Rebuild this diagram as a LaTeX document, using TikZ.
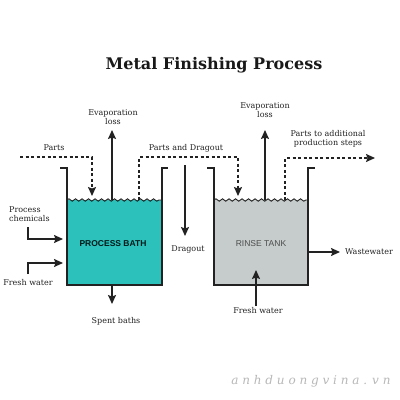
\documentclass[tikz,border=0pt]{standalone}
\usepackage{fontspec}
\setmainfont{DejaVu Serif}
\newfontfamily\labelsans{Liberation Sans}
\usetikzlibrary{arrows.meta,decorations.pathmorphing}
\definecolor{bathteal}{HTML}{2CC1BB}
\definecolor{rinsegray}{HTML}{C6CCCB}
\definecolor{ink}{HTML}{222222}
\begin{document}
\begin{tikzpicture}[x=1pt,y=-1pt,
  wall/.style={line width=1.3pt, draw=ink},
  wave/.style={line width=0.9pt, draw=ink, decorate, decoration={snake, amplitude=1.2pt, segment length=6.5pt}},
  flow/.style={line width=1.4pt, draw=ink, -{Stealth[width=8pt,length=9pt,inset=1.5pt]}},
  dflow/.style={flow, dash pattern=on 3pt off 2.5pt},
  lbl/.style={font=\fontsize{8}{9.4}\selectfont, align=center, text=ink, inner sep=0pt},
  tanklbl/.style={font=\labelsans\fontsize{8.5}{9.5}\selectfont, inner sep=0pt}]
\useasboundingbox (0,0) rectangle (400,400);
\fill[white] (0,0) rectangle (400,400);
% title
\node[font=\bfseries\fontsize{16}{18}\selectfont, text=black!90] (title) at (214,65) {Metal Finishing Process};
% tanks
\fill[bathteal] (67,200) rectangle (162,285);
\fill[rinsegray] (214,200) rectangle (308,285);
\draw[wave] (67,200) -- (162,200);
\draw[wave] (214,200) -- (308,200);
\draw[wall] (60,168) -- (67,168) -- (67,285) -- (162,285) -- (162,168) -- (168,168);
\draw[wall] (207,168) -- (214,168) -- (214,285) -- (308,285) -- (308,168) -- (315,168);
% coordinates
\coordinate (pin) at (20,157);
\coordinate (pin1) at (92,157);
\coordinate (pin2) at (92,196);
\coordinate (ev1a) at (112,200);
\coordinate (ev1b) at (112,130);
\coordinate (pd0) at (139,200);
\coordinate (pd1) at (139,157);
\coordinate (pd2) at (238,157);
\coordinate (pd3) at (238,196);
\coordinate (dr0) at (185,165);
\coordinate (dr1) at (185,236);
\coordinate (ev2a) at (265,200);
\coordinate (ev2b) at (265,130);
\coordinate (pa0) at (285,200);
\coordinate (pa1) at (285,158);
\coordinate (pa2) at (375,158);
\coordinate (pc0) at (28,227);
\coordinate (pc1) at (28,239);
\coordinate (pc2) at (63,239);
\coordinate (fw0) at (28,274);
\coordinate (fw1) at (28,263);
\coordinate (fw2) at (63,263);
\coordinate (sb0) at (112,285);
\coordinate (sb1) at (112,304);
\coordinate (ww0) at (308,252);
\coordinate (ww1) at (340,252);
\coordinate (rf0) at (256,306);
\coordinate (rf1) at (256,270);
% flows
\draw[dflow] (pin) -- (pin1) -- (pin2);
\draw[flow] (ev1a) -- (ev1b);
\draw[dflow] (pd0) -- (pd1) -- (pd2) -- (pd3);
\draw[flow] (dr0) -- (dr1);
\draw[flow] (ev2a) -- (ev2b);
\draw[dflow] (pa0) -- (pa1) -- (pa2);
\draw[flow] (pc0) -- (pc1) -- (pc2);
\draw[flow] (fw0) -- (fw1) -- (fw2);
\draw[flow] (sb0) -- (sb1);
\draw[flow] (ww0) -- (ww1);
\draw[flow] (rf0) -- (rf1);
% labels
\node[lbl] (evl1) at (113,117) {Evaporation\\loss};
\node[lbl] (partsl) at (54,148) {Parts};
\node[lbl] (pdl) at (186,148) {Parts and Dragout};
\node[lbl] (drl) at (188,249) {Dragout};
\node[lbl] (evl2) at (265,110) {Evaporation\\loss};
\node[lbl] (pal) at (328,139) {Parts to additional\\production steps};
\node[lbl, align=left, anchor=west] (pcl) at (9,214) {Process\\chemicals};
\node[lbl] (fwl) at (28,283) {Fresh water};
\node[lbl] (sbl) at (116,321) {Spent baths};
\node[lbl, anchor=west] (wwl) at (345,252) {Wastewater};
\node[lbl] (rfl) at (258,311) {Fresh water};
\node[tanklbl, font=\labelsans\bfseries\fontsize{8.5}{9.5}\selectfont, text=black!80!teal] (pbl) at (113,244) {PROCESS BATH};
\node[tanklbl, text=black!70] (rtl) at (261,244) {RINSE TANK};
% watermark
\node[font=\itshape\fontsize{12}{13}\selectfont, text=black!28, inner sep=0pt] (wm) at (311,381) {a n h d u o n g v i n a . v n};
\end{tikzpicture}
\end{document}
